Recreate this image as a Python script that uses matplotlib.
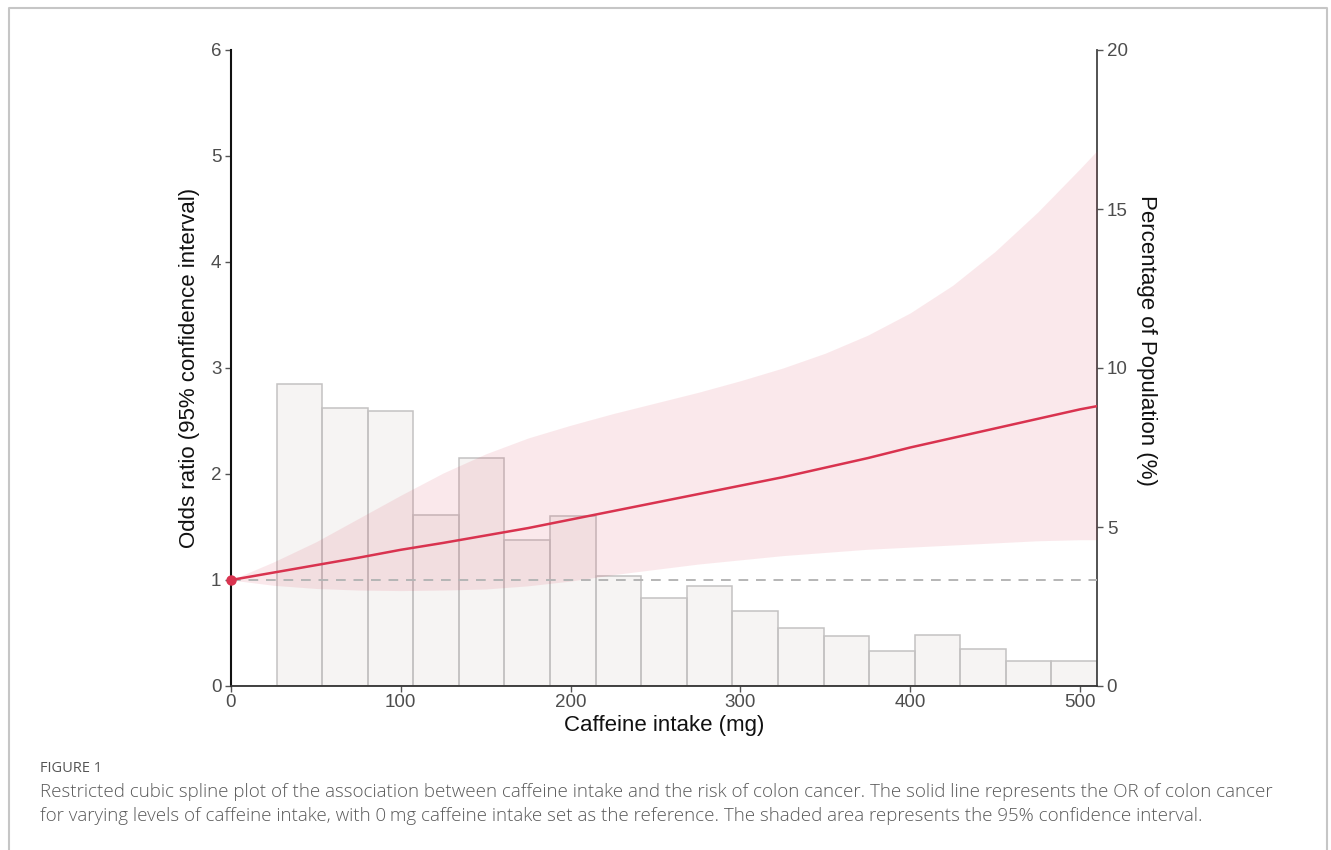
import numpy as np
import matplotlib
matplotlib.use("Agg")
import matplotlib.pyplot as plt
from matplotlib.lines import Line2D

# ---- data ----
caffeine = [0, 25, 50, 75, 100, 125, 150, 175, 200, 225, 250, 275, 300, 325, 350,
            375, 400, 425, 450, 475, 500, 510]
odds_ratio = [1.00, 1.07, 1.14, 1.21, 1.285, 1.35, 1.42, 1.49, 1.57, 1.65, 1.73, 1.81,
              1.89, 1.97, 2.06, 2.15, 2.25, 2.34, 2.43, 2.52, 2.61, 2.64]
ci_lower = [1.00, 0.95, 0.92, 0.905, 0.90, 0.905, 0.915, 0.945, 0.99, 1.05, 1.10, 1.15,
            1.19, 1.23, 1.26, 1.29, 1.31, 1.33, 1.35, 1.37, 1.38, 1.38]
ci_upper = [1.00, 1.17, 1.36, 1.58, 1.80, 2.01, 2.19, 2.34, 2.46, 2.57, 2.67, 2.77,
            2.88, 3.00, 3.14, 3.31, 3.52, 3.78, 4.10, 4.47, 4.88, 5.05]

bin_edges = [0.0, 26.84, 53.68, 80.53, 107.37, 134.21, 161.05, 187.89, 214.74, 241.58,
             268.42, 295.26, 322.11, 348.95, 375.79, 402.63, 429.47, 456.32, 483.16, 510.0]
population_pct = [0.0, 9.50, 8.74, 8.65, 5.38, 7.17, 4.59, 5.35, 3.46, 2.77, 3.14,
                  2.36, 1.82, 1.57, 1.10, 1.60, 1.16, 0.79, 0.79]

x_ticks = [0, 100, 200, 300, 400, 500]
or_ticks = [0, 1, 2, 3, 4, 5, 6]
pct_ticks = [0, 5, 10, 15, 20]

caption_title = "FIGURE 1"
caption_lines = [
    "Restricted cubic spline plot of the association between caffeine intake and the risk of colon cancer. The solid line represents the OR of colon cancer",
    "for varying levels of caffeine intake, with 0\u2009mg caffeine intake set as the reference. The shaded area represents the 95% confidence interval.",
]

# ---- figure ----
plt.rcParams['font.family'] = ['Liberation Sans', 'DejaVu Sans']
W, H = 1331, 850
fig = plt.figure(figsize=(W / 100, H / 100), dpi=100)

left, right, bottom, top = 231 / W, 1097 / W, 1 - 686 / H, 1 - 50 / H
ax = fig.add_axes([left, bottom, right - left, top - bottom])
ax2 = ax.twinx()

red = '#d9334f'
tick_col = '#4d4d4d'

ax2.set_zorder(1)
ax.set_zorder(2)
ax.patch.set_visible(False)

widths = np.diff(bin_edges)
ax2.bar(bin_edges[:-1], population_pct, width=widths, align='edge',
        facecolor='#eeebe9', alpha=0.5, edgecolor='none', zorder=1)
ax2.bar(bin_edges[:-1], population_pct, width=widths, align='edge',
        facecolor='none', edgecolor='#c4c2c2', linewidth=1.1, zorder=2)
ax2.set_ylim(0, 20)
ax2.set_yticks(pct_ticks)

ax.fill_between(caffeine, ci_lower, ci_upper, color=red, alpha=0.11, linewidth=0, zorder=1)
ax.axhline(1, color='#b5b5b5', linestyle=(0, (5, 4)), linewidth=1.4, zorder=2)
ax.plot(caffeine, odds_ratio, color=red, linewidth=1.8, zorder=3)
ax.plot([caffeine[0]], [odds_ratio[0]], 'o', color=red, markersize=6.5, clip_on=False, zorder=4)

ax.set_xlim(0, 510)
ax.set_ylim(0, 6)
ax.set_xticks(x_ticks)
ax.set_yticks(or_ticks)

for a in (ax, ax2):
    a.spines['top'].set_visible(False)
    a.tick_params(colors='#555555', labelcolor=tick_col, labelsize=13.5, length=4, width=1)
ax.spines['left'].set_color('#111111')
ax.spines['left'].set_linewidth(1.5)
ax.spines['bottom'].set_color('#333333')
ax.spines['bottom'].set_linewidth(1.3)
ax.spines['right'].set_visible(False)
ax2.spines['left'].set_visible(False)
ax2.spines['bottom'].set_visible(False)
ax2.spines['right'].set_color('#444444')
ax2.spines['right'].set_linewidth(1.3)
ax.tick_params(axis='x', pad=2)
ax.tick_params(axis='y', pad=3)
ax2.tick_params(axis='y', pad=3)

ax.set_xlabel('Caffeine intake (mg)', fontsize=16, color='#111111', labelpad=3)
ax.set_ylabel('Odds ratio (95% confidence interval)', fontsize=16, color='#111111', labelpad=8)
fig.text(1147 / W, 1 - 340 / H, 'Percentage of Population (%)', fontsize=16, color='#111111',
         rotation=270, rotation_mode='anchor', ha='center', va='center')

# border frame
bc = '#c6c6c6'
x0, x1, y0 = 8.5 / W, 1327 / W, 1 - 7.5 / H
fig.add_artist(Line2D([x0, x0, x1, x1], [0, y0, y0, 0], transform=fig.transFigure,
                      color=bc, linewidth=1.5))

# caption
cap_font = ['Open Sans', 'DejaVu Sans']
fig.text(40 / W, 1 - 769 / H, caption_title, fontsize=10.5, color='#555555',
         family=cap_font, va='center', ha='left')
for i, line in enumerate(caption_lines):
    fig.text(40 / W, 1 - (792 + 24 * i) / H, line, fontsize=13.5, color='#5a5a5a',
             family=cap_font, weight='light', va='center', ha='left')

fig.savefig('out.png', dpi=100)
